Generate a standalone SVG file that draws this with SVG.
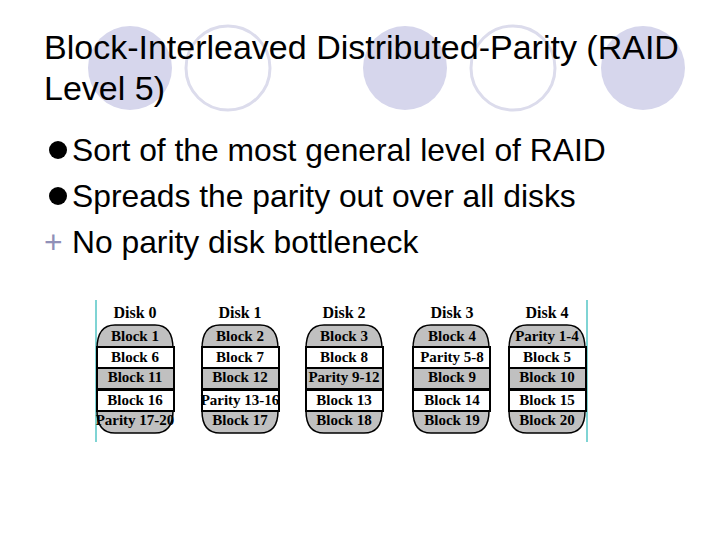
<svg xmlns="http://www.w3.org/2000/svg" width="720" height="540" viewBox="0 0 720 540">
<style>
.f{fill:#d6d6ec}
.o{fill:none;stroke:#dcdcec;stroke-width:3}
.t{font-family:"Liberation Sans",Arial,sans-serif;font-size:34px;fill:#000}
.b{font-family:"Liberation Sans",Arial,sans-serif;font-size:31.8px;fill:#000}
.d{font-family:"Liberation Serif","Times New Roman",serif;font-size:15px;font-weight:bold;text-anchor:middle;fill:#000}
.dh{font-family:"Liberation Serif","Times New Roman",serif;font-size:16px;font-weight:bold;text-anchor:middle;fill:#000}
.cap{fill:#c0c0c0;stroke:#000;stroke-width:1.5}
.w{fill:#fff;stroke:#000;stroke-width:2}
.g{fill:#c0c0c0;stroke:#000;stroke-width:2}
</style>
<defs>
<g id="disk">
<path class="cap" d="M0,24 Q0,0 18,0 H58 Q76,0 76,24 V86 Q76,108 58,108 H18 Q0,108 0,86 Z"/>
<rect class="w" x="0" y="22" width="77" height="21"/>
<rect class="g" x="0" y="43" width="77" height="21"/>
<rect class="w" x="0" y="65" width="77" height="21"/>
</g>
</defs>
<rect width="720" height="540" fill="#fff"/>
<g id="bg">
<circle class="f" cx="130" cy="68" r="42"/>
<circle class="o" cx="228" cy="68" r="42"/>
<circle class="f" cx="405" cy="68" r="42"/>
<circle class="o" cx="513" cy="68" r="42"/>
<circle class="f" cx="643" cy="68" r="42"/>
</g>
<text class="t" x="44" y="59">Block-Interleaved Distributed-Parity (RAID</text>
<text class="t" x="44" y="100">Level 5)</text>
<circle cx="58" cy="150" r="9" fill="#000"/>
<text class="b" x="72" y="161">Sort of the most general level of RAID</text>
<circle cx="58" cy="196" r="9" fill="#000"/>
<text class="b" x="72" y="207">Spreads the parity out over all disks</text>
<text class="b" x="44" y="253" style="fill:#9090b8">+</text>
<text class="b" x="72" y="253">No parity disk bottleneck</text>
<g id="frame" stroke="#7fd4d4" stroke-width="2">
<line x1="96" y1="300" x2="96" y2="442"/>
<line x1="587" y1="300" x2="587" y2="442"/>
</g>
<g id="disk0"><use href="#disk" x="97" y="325"/>
<text class="dh" x="135" y="318">Disk 0</text>
<text class="d" x="135" y="341">Block 1</text><text class="d" x="135" y="362">Block 6</text><text class="d" x="135" y="382">Block 11</text><text class="d" x="135" y="405">Block 16</text><text class="d" x="135" y="425">Parity 17-20</text></g>
<g id="disk1"><use href="#disk" x="202" y="325"/>
<text class="dh" x="240" y="318">Disk 1</text>
<text class="d" x="240" y="341">Block 2</text><text class="d" x="240" y="362">Block 7</text><text class="d" x="240" y="382">Block 12</text><text class="d" x="240" y="405">Parity 13-16</text><text class="d" x="240" y="425">Block 17</text></g>
<g id="disk2"><use href="#disk" x="306" y="325"/>
<text class="dh" x="344" y="318">Disk 2</text>
<text class="d" x="344" y="341">Block 3</text><text class="d" x="344" y="362">Block 8</text><text class="d" x="344" y="382">Parity 9-12</text><text class="d" x="344" y="405">Block 13</text><text class="d" x="344" y="425">Block 18</text></g>
<g id="disk3"><use href="#disk" x="413" y="325"/>
<text class="dh" x="452" y="318">Disk 3</text>
<text class="d" x="452" y="341">Block 4</text><text class="d" x="452" y="362">Parity 5-8</text><text class="d" x="452" y="382">Block 9</text><text class="d" x="452" y="405">Block 14</text><text class="d" x="452" y="425">Block 19</text></g>
<g id="disk4"><use href="#disk" x="509" y="325"/>
<text class="dh" x="547" y="318">Disk 4</text>
<text class="d" x="547" y="341">Parity 1-4</text><text class="d" x="547" y="362">Block 5</text><text class="d" x="547" y="382">Block 10</text><text class="d" x="547" y="405">Block 15</text><text class="d" x="547" y="425">Block 20</text></g>
<g id="connectors"/>
</svg>
